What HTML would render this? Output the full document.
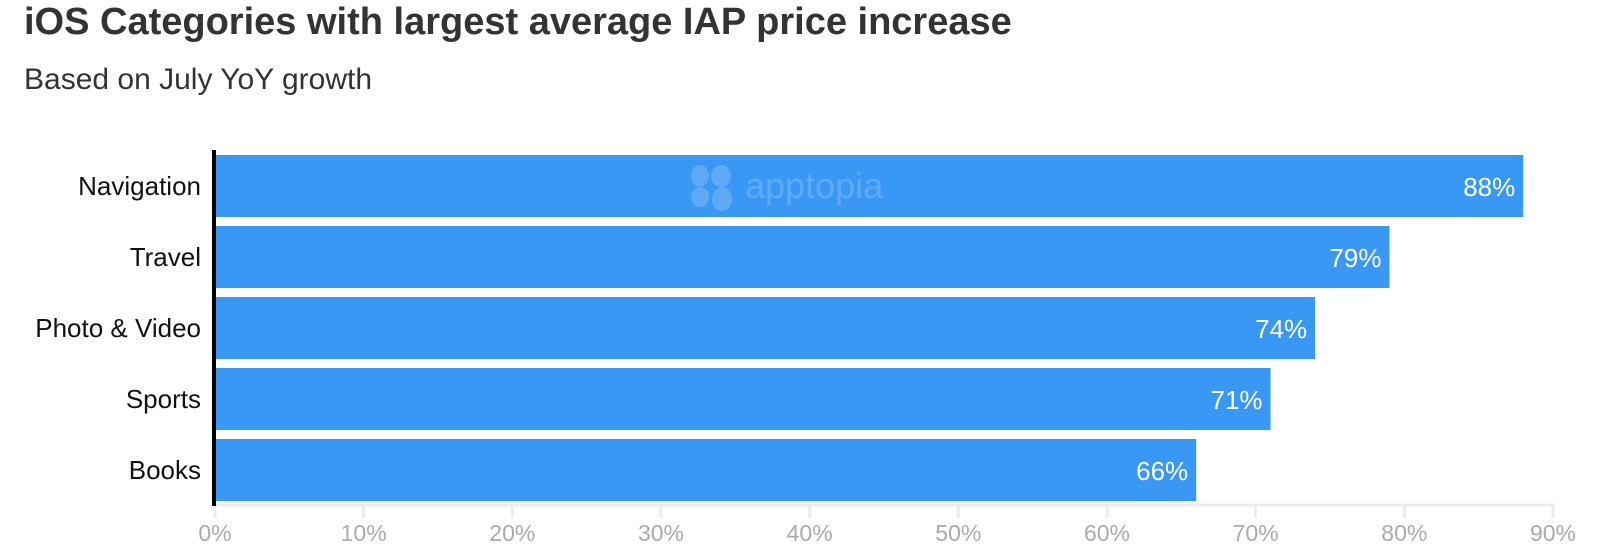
<!DOCTYPE html>
<html><head><meta charset="utf-8"><style>
html,body{margin:0;padding:0;background:#fff;}
body{width:1600px;height:559px;overflow:hidden;position:relative;font-family:"Liberation Sans",sans-serif;}
#title{position:absolute;left:24px;top:1px;font-size:38px;font-weight:bold;color:#333;white-space:nowrap;}
#sub{position:absolute;left:24px;top:63px;font-size:30px;color:#333;white-space:nowrap;}
svg{position:absolute;left:0;top:0;}
</style></head><body>
<div id="title">iOS Categories with largest average IAP price increase</div>
<div id="sub">Based on July YoY growth</div>
<svg id="chart" width="1600" height="559"></svg>
<script>
const categories=["Navigation","Travel","Photo & Video","Sports","Books"];
const values=[88,79,74,71,66];
const ticks=[0,10,20,30,40,50,60,70,80,90];
const tickLabels=["0%","10%","20%","30%","40%","50%","60%","70%","80%","90%"];
const svg=document.getElementById('chart');
const NS="http://www.w3.org/2000/svg";
const x0=215,x1=1553,xMax=90;
const xs=v=>x0+(v/xMax)*(x1-x0);
const yTop=155,pitch=71,barH=62;
const ys=i=>yTop+i*pitch;
function mk(t,a,txt){const e=document.createElementNS(NS,t);for(const k in a)e.setAttribute(k,a[k]);if(txt!==undefined)e.textContent=txt;svg.appendChild(e);return e;}
let g=mk('line',{x1:x0,y1:505,x2:x1+2,y2:505,stroke:'#ececec','stroke-width':3});


ticks.forEach((t,i)=>{
  const tk=mk('line',{x1:xs(t),y1:505,x2:xs(t),y2:518,stroke:'#ececec','stroke-width':3});
  
  
  const tl=mk('text',{x:xs(t),y:541,'text-anchor':'middle','font-size':23,fill:'#aaa','font-family':'Liberation Sans, sans-serif'},tickLabels[i]);
  
  
});
const wm=document.createElementNS(NS,'g');


wm.setAttribute('opacity','0.18');
wm.innerHTML='<ellipse cx="700" cy="176" rx="9" ry="11" fill="#fff"/><ellipse cx="721" cy="176" rx="10" ry="11" fill="#fff"/><ellipse cx="700" cy="197" rx="9" ry="10" fill="#fff"/><ellipse cx="722" cy="199" rx="10" ry="12" fill="#fff"/><text x="745" y="198" font-size="36" fill="#fff" font-family="Liberation Sans, sans-serif">apptopia</text>';
categories.forEach((c,i)=>{
  const r=mk('rect',{x:x0,y:ys(i),width:xs(values[i])-x0,height:barH,fill:'#3a98f5'});
  
  
  const l=mk('text',{x:201,y:ys(i)+barH/2+9,'text-anchor':'end','font-size':26,fill:'#111','font-family':'Liberation Sans, sans-serif'},c);
  
  
  const v=mk('text',{x:xs(values[i])-8,y:ys(i)+barH/2+10,'text-anchor':'end','font-size':26,fill:'#fff','font-family':'Liberation Sans, sans-serif'},values[i]+'%');
  
  
});
svg.appendChild(wm);
const ax=mk('line',{x1:214,y1:150,x2:214,y2:506,stroke:'#000','stroke-width':4});


</script>
</body></html>
